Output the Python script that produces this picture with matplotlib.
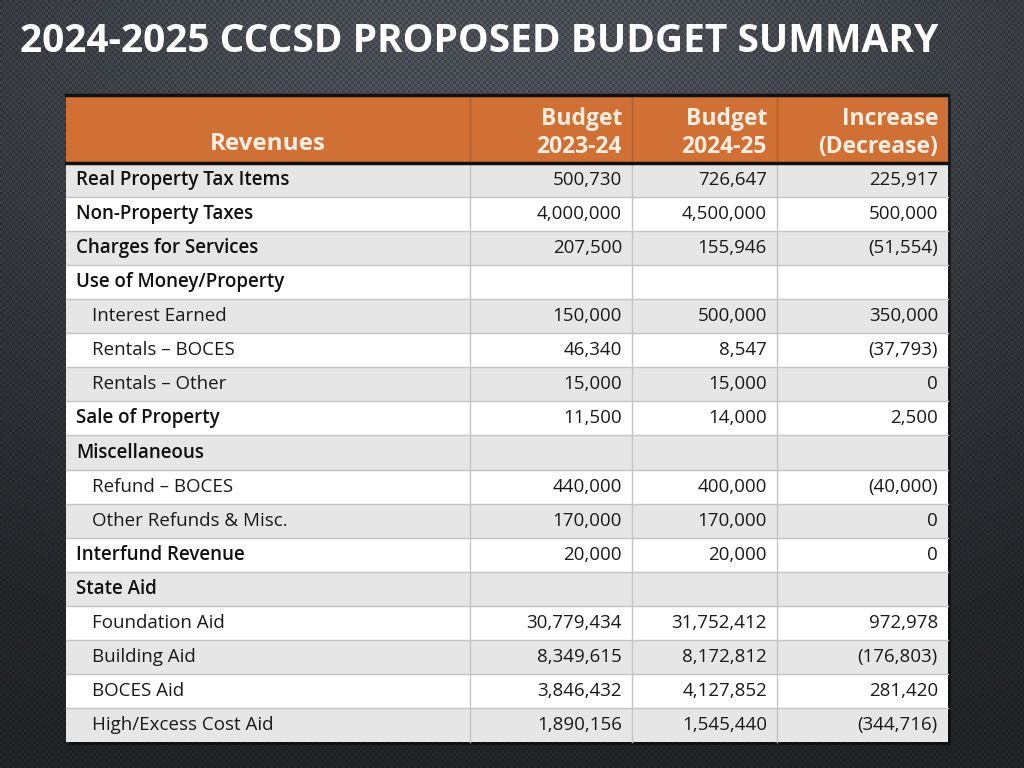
import numpy as np
import matplotlib.pyplot as plt
from matplotlib.patches import Rectangle

# Table content
headers = ['Revenues', 'Budget\n2023-24', 'Budget\n2024-25', 'Increase\n(Decrease)']
items = ['Real Property Tax Items', 'Non-Property Taxes', 'Charges for Services',
         'Use of Money/Property', 'Interest Earned', 'Rentals \u2013 BOCES',
         'Rentals \u2013 Other', 'Sale of Property', 'Miscellaneous',
         'Refund \u2013 BOCES', 'Other Refunds & Misc.', 'Interfund Revenue',
         'State Aid', 'Foundation Aid', 'Building Aid', 'BOCES Aid',
         'High/Excess Cost Aid']
is_sub = [False, False, False, False, True, True, True, False, False,
          True, True, False, False, True, True, True, True]
budget_2324 = [500730, 4000000, 207500, None, 150000, 46340, 15000, 11500, None,
               440000, 170000, 20000, None, 30779434, 8349615, 3846432, 1890156]
budget_2425 = [726647, 4500000, 155946, None, 500000, 8547, 15000, 14000, None,
               400000, 170000, 20000, None, 31752412, 8172812, 4127852, 1545440]
change = [225917, 500000, -51554, None, 350000, -37793, 0, 2500, None,
          -40000, 0, 0, None, 972978, -176803, 281420, -344716]


def fmt(v):
    if v is None:
        return ''
    if v < 0:
        return '({:,})'.format(-v)
    return '{:,}'.format(v)


plt.rcParams['font.family'] = ['Open Sans', 'DejaVu Sans']

fig = plt.figure(figsize=(10.24, 7.68), dpi=100)
ax = fig.add_axes([0, 0, 1, 1])
ax.set_xlim(0, 1024)
ax.set_ylim(768, 0)
ax.axis('off')

# Dark background with a soft lighter glow near the top
yy, xx = np.mgrid[0:768, 0:1024]
glow = np.exp(-(((xx - 512) / 700.0) ** 2 + ((yy - 40) / 450.0) ** 2))
bg = np.zeros((768, 1024, 3))
base = np.array([0.13, 0.14, 0.15])
top = np.array([0.32, 0.34, 0.37])
for c in range(3):
    bg[:, :, c] = base[c] + (top[c] - base[c]) * glow
# dot texture
dots = ((xx % 6 < 3) & (yy % 6 < 3)) | ((xx % 6 >= 3) & (yy % 6 >= 3))
bg[dots] *= 0.8
ax.imshow(bg, extent=(0, 1024, 768, 0), zorder=0, interpolation='bilinear')

# Title
ax.text(20, 42, '2024-2025 CCCSD PROPOSED BUDGET SUMMARY', color='white',
        fontsize=28, fontweight='bold', va='center', ha='left', zorder=5)

# Table geometry
left, right = 66, 948
col_edges = [left, 470, 632, 777, right]
head_top, head_bot = 95, 162
row_h = (742 - 163) / len(items)

# shadow
ax.add_patch(Rectangle((left + 3, head_top + 3), right - left, 742 - head_top,
                       facecolor='black', alpha=0.5, zorder=1))

# Header
ax.add_patch(Rectangle((left, head_top), right - left, head_bot - head_top,
                       facecolor='#D07034', edgecolor='none', zorder=2))
ax.plot([left, right], [head_top, head_top], color='#111111', lw=2.5, zorder=4)
ax.plot([left, right], [head_bot + 0.5, head_bot + 0.5], color='#111111', lw=2.5, zorder=4)
for x in col_edges[1:-1]:
    ax.plot([x, x], [head_top, head_bot], color='#b85e28', lw=1, zorder=3)

ax.text((col_edges[0] + col_edges[1]) / 2, 144, headers[0], color='#fbeee0',
        fontsize=17.5, fontweight='bold', ha='center', va='center', zorder=5)
for j in range(1, 4):
    ax.text(col_edges[j + 1] - 10, 133, headers[j], color='#fbeee0',
            fontsize=16.5, fontweight='bold', ha='right', va='center',
            linespacing=1.2, zorder=5)

# Body rows
cols = [budget_2324, budget_2425, change]
for i, name in enumerate(items):
    y0 = 163 + i * row_h
    fc = '#e6e6e6' if i % 2 == 0 else '#ffffff'
    ax.add_patch(Rectangle((left, y0), right - left, row_h, facecolor=fc,
                           edgecolor='none', zorder=2))
    if i > 0:
        ax.plot([left, right], [y0, y0], color='#c4c4c4', lw=1, zorder=3)
    yc = y0 + row_h / 2
    if is_sub[i]:
        ax.text(92, yc, name, fontsize=13.5, color='#1a1a1a', ha='left',
                va='center', zorder=5)
    else:
        ax.text(76, yc, name, fontsize=13.5, fontweight='semibold', color='#111111',
                ha='left', va='center', zorder=5)
    for j, series in enumerate(cols):
        ax.text(col_edges[j + 2] - 10, yc, fmt(series[i]), fontsize=13.5,
                color='#1a1a1a', ha='right', va='center', zorder=5)

for x in col_edges[1:-1]:
    ax.plot([x, x], [163, 742], color='#c4c4c4', lw=1, zorder=3)

fig.savefig('out.png', dpi=100, facecolor='#222428')
